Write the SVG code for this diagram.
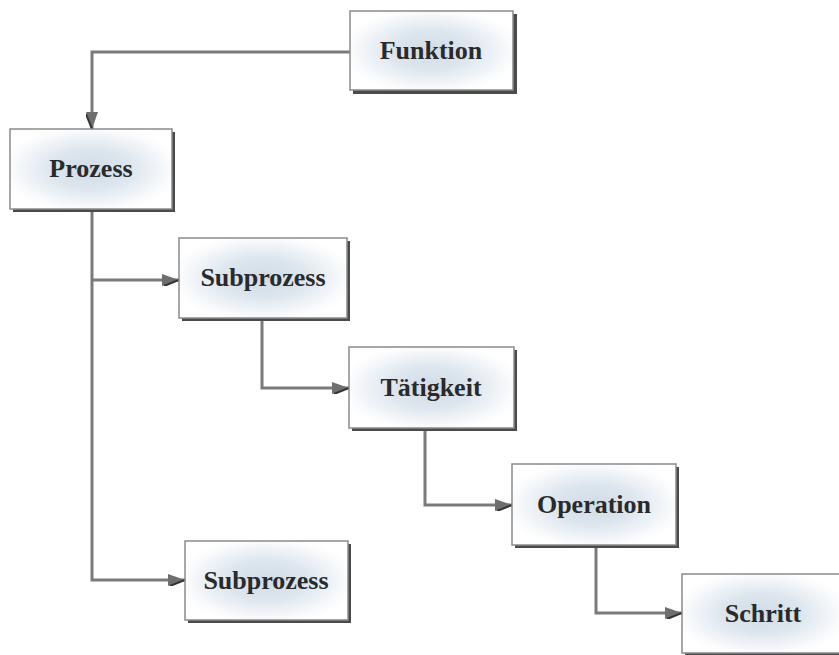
<svg xmlns="http://www.w3.org/2000/svg" width="839" height="655" viewBox="0 0 839 655">
<defs>
<radialGradient id="g" cx="50%" cy="50%" r="55%">
<stop offset="0" stop-color="#d0dce6"/>
<stop offset="0.45" stop-color="#dde6ee"/>
<stop offset="0.85" stop-color="#f7f9fb"/>
<stop offset="1" stop-color="#ffffff"/>
</radialGradient>
<marker id="arr" viewBox="0 0 17 12" refX="17" refY="6" markerWidth="17" markerHeight="12" markerUnits="userSpaceOnUse" orient="auto">
<path d="M0,0 L17,6 L0,12 Z" fill="#6e6e6e"/>
<path d="M2,12 L17,6" stroke="#333" stroke-width="2"/>
</marker>
</defs>
<style>
.box{fill:url(#g);stroke:#8a8a8a;stroke-width:1.5}
.sh{fill:#4a4a4a}
.t{font-family:"Liberation Serif","Times New Roman",serif;font-weight:bold;font-size:26px;fill:#2a2a2a;text-anchor:middle}
.c{fill:none;stroke:#7a7a7a;stroke-width:3;marker-end:url(#arr)}
</style>
<rect width="839" height="655" fill="#fff"/>
<g id="connectors">
<path class="c" d="M350,52 H92 V129"/>
<path class="c" d="M92,209 V580 H185"/>
<path class="c" d="M92,280 H179"/>
<path class="c" d="M262,318 V388 H349"/>
<path class="c" d="M425,428 V505 H512"/>
<path class="c" d="M596,545 V613 H682"/>
</g>
<g id="funktion">
<rect class="sh" x="353" y="14" width="164" height="80"/>
<rect class="box" x="350" y="11" width="163" height="79"/>
<text class="t" x="431" y="59">Funktion</text>
</g>
<g id="prozess">
<rect class="sh" x="13" y="132" width="162" height="80"/>
<rect class="box" x="10" y="129" width="162" height="80"/>
<text class="t" x="91" y="177">Prozess</text>
</g>
<g id="subprozess1">
<rect class="sh" x="182" y="241" width="168" height="80"/>
<rect class="box" x="179" y="238" width="168" height="80"/>
<text class="t" x="263" y="286">Subprozess</text>
</g>
<g id="taetigkeit">
<rect class="sh" x="352" y="350" width="165" height="81"/>
<rect class="box" x="349" y="347" width="165" height="81"/>
<text class="t" x="431" y="396">Tätigkeit</text>
</g>
<g id="operation">
<rect class="sh" x="515" y="467" width="164" height="81"/>
<rect class="box" x="512" y="464" width="164" height="81"/>
<text class="t" x="594" y="513">Operation</text>
</g>
<g id="subprozess2">
<rect class="sh" x="188" y="544" width="163" height="79"/>
<rect class="box" x="185" y="541" width="163" height="79"/>
<text class="t" x="266" y="589">Subprozess</text>
</g>
<g id="schritt">
<rect class="sh" x="685" y="577" width="160" height="80"/>
<rect class="box" x="682" y="574" width="160" height="79"/>
<text class="t" x="763" y="622">Schritt</text>
</g>
</svg>
